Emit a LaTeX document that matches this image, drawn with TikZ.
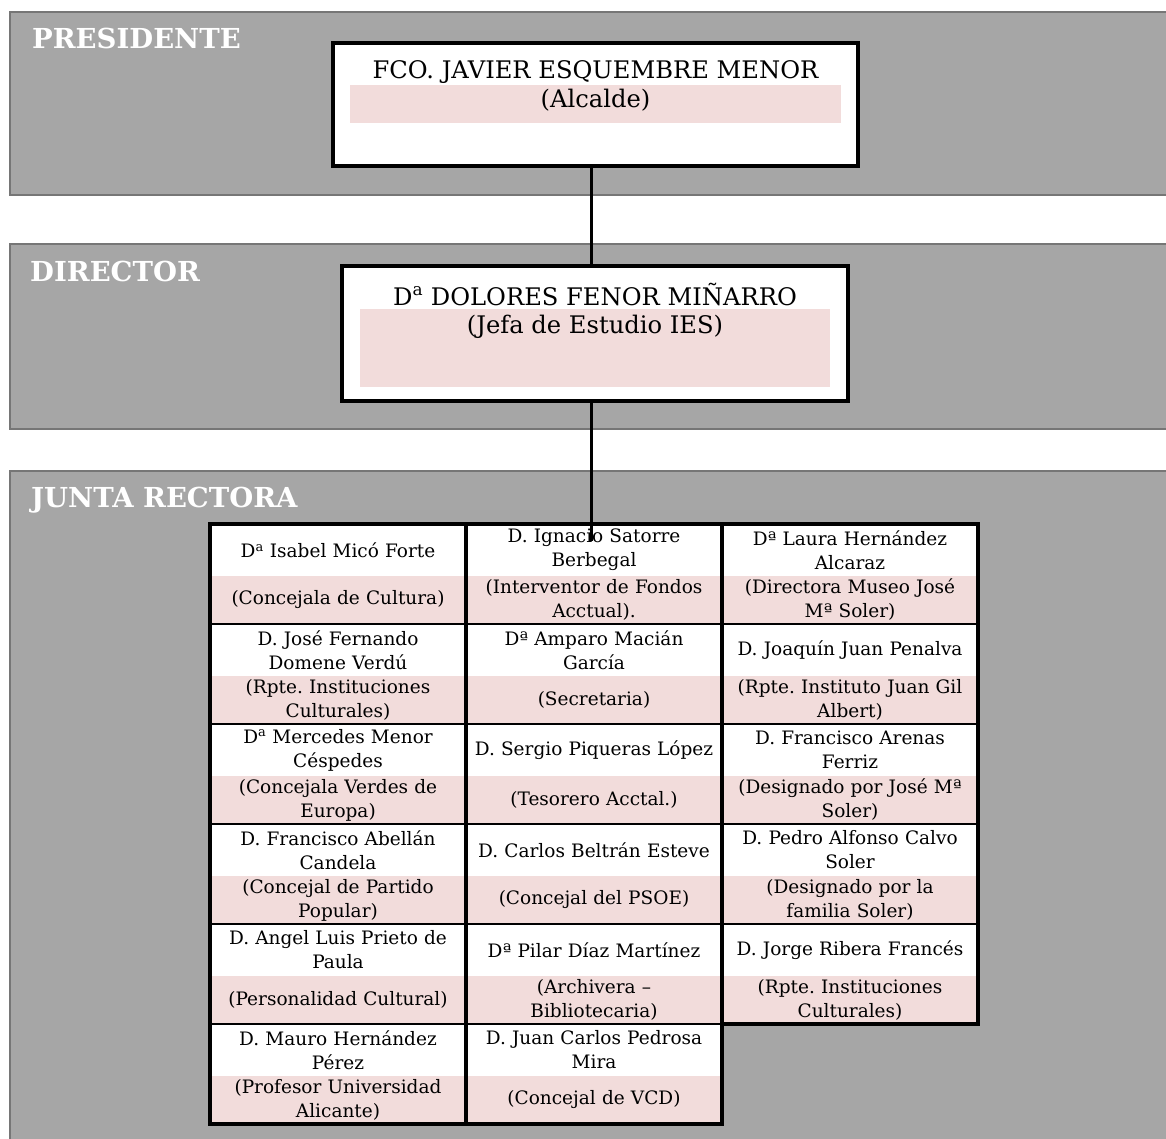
\documentclass[tikz,border=0pt]{standalone}
\usepackage{fontspec}
\setmainfont{DejaVu Serif}
\usepackage{tikz}
\usetikzlibrary{positioning}
\definecolor{bandgray}{HTML}{A6A6A6}
\definecolor{bandedge}{HTML}{767676}
\definecolor{rolepink}{HTML}{F2DCDB}
\frenchspacing

\begin{document}
\begin{tikzpicture}[x=1pt, y=-1pt,
                band/.style={fill=bandgray, draw=bandedge, line width=1.3pt},
                level/.style={text=white, font=\fontsize{27.5}{32}\selectfont\bfseries, anchor=base west, inner sep=0pt},
                headbox/.style={draw, fill=white, line width=3.5pt, inner sep=0pt},
                rolebar/.style={fill=rolepink, inner sep=0pt},
                headtext/.style={font=\fontsize{24.2}{29}\selectfont, anchor=base, inner sep=0pt},
                namecell/.style={fill=white, draw=white, line width=1pt, text width=250pt, inner xsep=3pt, inner ysep=0pt,
                                 minimum height=52pt, outer sep=0pt, align=center, anchor=north,
                                 font=\fontsize{18.5}{24}\selectfont},
                rolecell/.style={namecell, fill=rolepink, draw=rolepink, minimum height=48pt},
                frame/.style={line width=3.5pt},
                rule/.style={line width=2.5pt},
                conn/.style={line width=3pt}]
                \useasboundingbox (0,0) rectangle (1166,1138);
                % levels
                \draw[band] (10,12) rectangle (1172,195);
                \draw[band] (10,244) rectangle (1172,429);
                \draw[band] (10,471) rectangle (1172,1145);
                \node[level] (hpresidente) at (32,48) {PRESIDENTE};
                \node[level] (hdirector) at (30,281) {DIRECTOR};
                \node[level] (hjunta) at (31,507) {JUNTA RECTORA};
                % presidente
                \node[headbox, minimum width=525pt, minimum height=123pt] (alcalde) at (595.5,104.5) {};
                \node[rolebar, minimum width=491pt, minimum height=38pt] (alcaldebar) at (595.5,104) {};
                \node[headtext] (alcaldenom) at (595.5,78) {FCO. JAVIER ESQUEMBRE MENOR};
                \node[headtext] (alcaldecargo) at (595.5,107) {(Alcalde)};
                % director
                \node[headbox, minimum width=506pt, minimum height=135pt] (dolores) at (595,333.5) {};
                \node[rolebar, minimum width=470pt, minimum height=78pt] (doloresbar) at (595,348) {};
                \node[headtext] (doloresnom) at (595,305) {D\textsuperscript{a} DOLORES FENOR MIÑARRO};
                \node[headtext] (dolorescargo) at (595,333) {(Jefa de Estudio IES)};
                % junta rectora
                \foreach \nom/\cargo [count=\k] in {
                    {D\textsuperscript{a} Isabel Micó Forte}/{(Concejala de Cultura)},
                    {D. José Fernando\\Domene Verdú}/{(Rpte. Instituciones\\Culturales)},
                    {D\textsuperscript{a} Mercedes Menor\\Céspedes}/{(Concejala Verdes de\\Europa)},
                    {D. Francisco Abellán\\Candela}/{(Concejal de Partido\\Popular)},
                    {D. Angel Luis Prieto de\\Paula}/{(Personalidad Cultural)},
                    {D. Mauro Hernández\\Pérez}/{(Profesor Universidad\\Alicante)}} {
                    \node[namecell] (nomA\k) at (338,424+100*\k) {\nom};
                    \node[rolecell, below=0pt of nomA\k] (cargoA\k) {\cargo};
                }
                \foreach \nom/\cargo [count=\k] in {
                    {D. Ignacio Satorre\\Berbegal}/{(Interventor de Fondos\\Acctual).},
                    {Dª Amparo Macián\\García}/{(Secretaria)},
                    {D. Sergio Piqueras López}/{(Tesorero Acctal.)},
                    {D. Carlos Beltrán Esteve}/{(Concejal del PSOE)},
                    {Dª Pilar Díaz Martínez}/{(Archivera –\\Bibliotecaria)},
                    {D. Juan Carlos Pedrosa\\Mira}/{(Concejal de VCD)}} {
                    \node[namecell] (nomB\k) at (594,424+100*\k) {\nom};
                    \node[rolecell, below=0pt of nomB\k] (cargoB\k) {\cargo};
                }
                \foreach \nom/\cargo [count=\k] in {
                    {Dª Laura Hernández\\Alcaraz}/{(Directora Museo José\\Mª Soler)},
                    {D. Joaquín Juan Penalva}/{(Rpte. Instituto Juan Gil\\Albert)},
                    {D. Francisco Arenas\\Ferriz}/{(Designado por José Mª\\Soler)},
                    {D. Pedro Alfonso Calvo\\Soler}/{(Designado por la\\familia Soler)},
                    {D. Jorge Ribera Francés}/{(Rpte. Instituciones\\Culturales)}} {
                    \node[namecell] (nomC\k) at (850,424+100*\k) {\nom};
                    \node[rolecell, below=0pt of nomC\k] (cargoC\k) {\cargo};
                }
                \foreach \k in {1,...,5}
                    \draw[rule] (cargoA\k.south west) -- (cargoB\k.south east);
                \foreach \k in {1,...,4}
                    \draw[rule] (cargoC\k.south west) -- (cargoC\k.south east);
                \draw[frame] (nomA1.north east) -- (cargoA6.south east);
                \draw[frame] (nomA1.north west) rectangle (cargoB6.south east);
                \draw[frame] (nomC1.north west) rectangle (cargoC5.south east);
                % connectors
                \coordinate (stem) at (591,0);
                \coordinate (stemend) at (591,541);
                \draw[conn] (alcalde.south -| stem) -- (dolores.north -| stem);
                \draw[conn] (dolores.south -| stem) -- (stemend);
\end{tikzpicture}
\end{document}
